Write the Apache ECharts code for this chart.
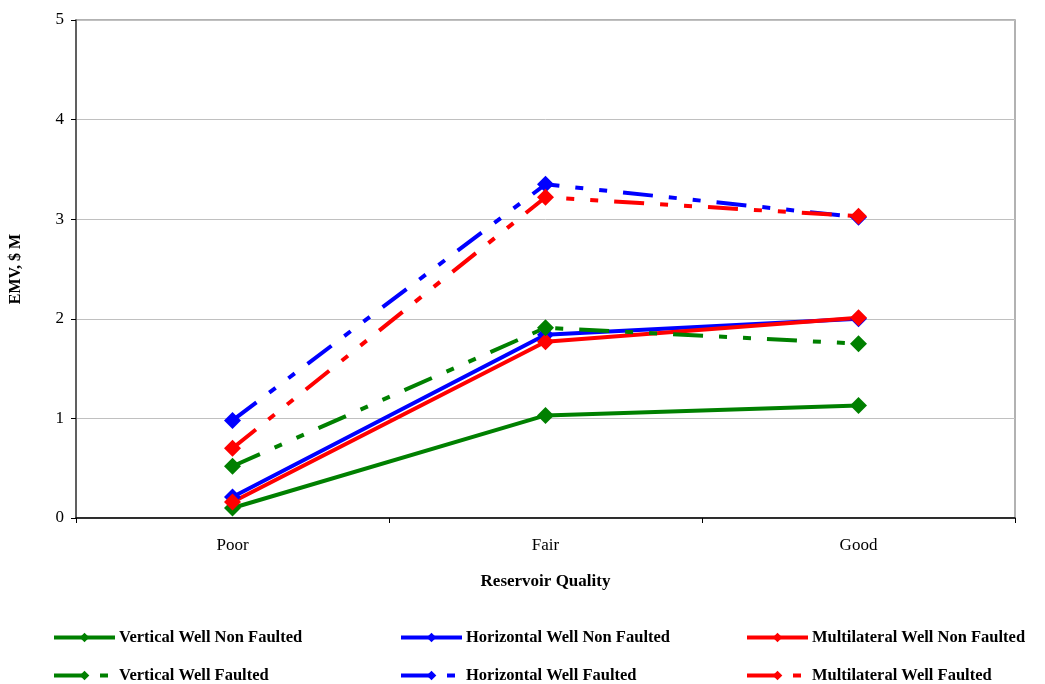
<!DOCTYPE html>
<html>
<head>
<meta charset="utf-8">
<script src="https://cdn.jsdelivr.net/npm/echarts@6/dist/echarts.min.js"></script>
<style>
  html, body { margin: 0; padding: 0; background: #fff; }
  #chart { width: 1045px; height: 684px; }
</style>
</head>
<body>
<div id="chart"></div>
<script>
// EMV by reservoir quality for each well type
const categories = ['Poor', 'Fair', 'Good'];
const verticalNonFaulted = [0.10, 1.03, 1.13];
const horizontalNonFaulted = [0.21, 1.84, 2.00];
const multilateralNonFaulted = [0.16, 1.77, 2.01];
const verticalFaulted = [0.52, 1.91, 1.75];
const horizontalFaulted = [0.98, 3.35, 3.02];
const multilateralFaulted = [0.70, 3.22, 3.03];
const yTicks = [0, 1, 2, 3, 4, 5];

const GREEN = '#008000', BLUE = '#0000ff', RED = '#ff0000';
const FONT = '"Liberation Serif", "DejaVu Serif", serif';
// long dash, dot, dot
const DASH = [30, 16, 8, 16, 8, 16];

function makeSeries(name, data, color, dashed) {
  return {
    name: name,
    type: 'line',
    data: data,
    symbol: 'diamond',
    symbolSize: 17,
    lineStyle: { color: color, width: 4, type: dashed ? DASH : 'solid' },
    itemStyle: { color: color },
    emphasis: { disabled: true },
    animation: false
  };
}

const series = [
  makeSeries('Vertical Well Non Faulted', verticalNonFaulted, GREEN, false),
  makeSeries('Horizontal Well Non Faulted', horizontalNonFaulted, BLUE, false),
  makeSeries('Multilateral Well Non Faulted', multilateralNonFaulted, RED, false),
  makeSeries('Vertical Well Faulted', verticalFaulted, GREEN, true),
  makeSeries('Horizontal Well Faulted', horizontalFaulted, BLUE, true),
  makeSeries('Multilateral Well Faulted', multilateralFaulted, RED, true)
];

// legend placement: three columns, two rows
const legendCols = [52, 399, 745];
const legendRows = [629, 667];
const legends = series.map(function (s, i) {
  return {
    data: [s.name],
    left: legendCols[i % 3],
    top: legendRows[Math.floor(i / 3)],
    padding: 0,
    itemWidth: 61,
    itemHeight: 12,
    itemGap: 0,
    selectedMode: false,
    lineStyle: { width: 4 },
    textStyle: {
      fontFamily: FONT, fontWeight: 'bold', fontSize: 16.5, color: '#000',
      padding: [0, 0, 0, -1]
    }
  };
});

const chart = echarts.init(document.getElementById('chart'));
chart.setOption({
  backgroundColor: '#fff',
  animation: false,
  grid: {
    left: 76, right: 30, top: 20, bottom: 166,
    show: true, borderColor: '#999', borderWidth: 1.5
  },
  legend: legends,
  xAxis: {
    type: 'category',
    data: categories,
    boundaryGap: true,
    name: 'Reservoir Quality',
    nameLocation: 'middle',
    nameGap: 55,
    nameTextStyle: { fontFamily: FONT, fontWeight: 'bold', fontSize: 17, color: '#000' },
    axisLine: { lineStyle: { color: '#000', width: 1.5 } },
    axisTick: { show: true, length: 5, lineStyle: { color: '#000' } },
    axisLabel: { fontFamily: FONT, fontSize: 17, color: '#000', margin: 19 },
    splitLine: { show: false }
  },
  yAxis: {
    type: 'value',
    min: yTicks[0],
    max: yTicks[yTicks.length - 1],
    interval: 1,
    name: 'EMV, $ M',
    nameLocation: 'middle',
    nameGap: 52,
    nameRotate: 90,
    nameTextStyle: { fontFamily: FONT, fontWeight: 'bold', fontSize: 16, color: '#000' },
    axisLine: { show: true, lineStyle: { color: '#444', width: 1.5 } },
    axisTick: { show: true, length: 5, lineStyle: { color: '#000' } },
    axisLabel: { fontFamily: FONT, fontSize: 17, color: '#000', margin: 12 },
    splitLine: { show: true, lineStyle: { color: '#c0c0c0', width: 1 } }
  },
  series: series
});
</script>
</body>
</html>
